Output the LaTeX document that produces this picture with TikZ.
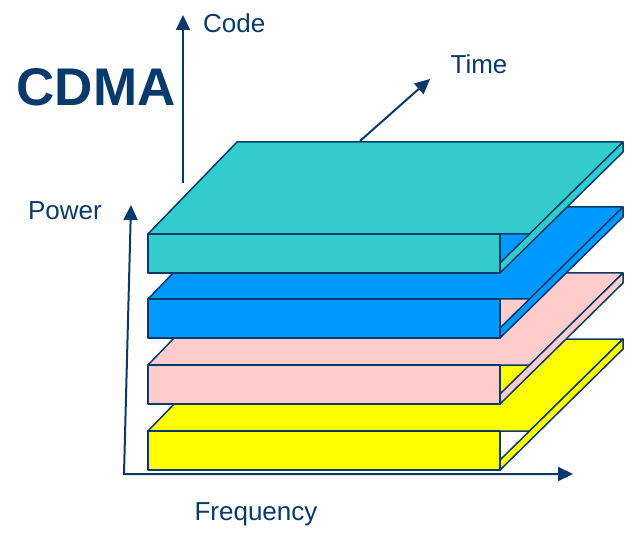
\documentclass[tikz,border=0pt]{standalone}
\usepackage{fontspec}
\setmainfont{Liberation Sans}
\usepackage{tikz}
\usetikzlibrary{arrows.meta}
\definecolor{navyc}{HTML}{0A3A6B}
\definecolor{tealc}{HTML}{33CCCC}
\definecolor{bluec}{HTML}{0099FF}
\definecolor{pinkc}{HTML}{FFCCCC}
\definecolor{yelc}{HTML}{FFFF00}
\tikzset{
  ax/.style={-{Triangle[length=15pt,width=14pt]},line width=2pt,navyc},
  face/.style={draw=navyc,line width=1.5pt,line join=round},
  lab/.style={font=\fontsize{26}{30}\selectfont,text=navyc,inner sep=0pt}
}

\begin{document}
\begin{tikzpicture}[x=1pt,y=-1pt]
\useasboundingbox (0,0) rectangle (634,534);
% slabs, lowest first
\foreach \yy/\col in {431/yelc,365/pinkc,299/bluec,234/tealc}{
  \draw[face,fill=\col] (148,\yy)--(237,\yy-92)--(623,\yy-92)--(530,\yy)--cycle;
  \draw[face,fill=\col] (148,\yy) rectangle (500,\yy+39);
  \draw[face,fill=\col] (623,\yy-92)--(623,\yy-82)--(500,\yy+39)--(500,\yy+29)--cycle;
}
% axes
\coordinate (orig) at (124,474);
\coordinate (pwtip) at (131,205);
\coordinate (fqtip) at (573,474);
\coordinate (codebot) at (183,183);
\coordinate (codetip) at (183,15);
\coordinate (timebot) at (360,141);
\coordinate (timetip) at (430,79);
\draw[ax,{Triangle[length=15pt,width=14pt]}-{Triangle[length=15pt,width=14pt]},line join=miter] (pwtip)--(orig)--(fqtip);
\draw[ax] (codebot)--(codetip);
\draw[ax] (timebot)--(timetip);
% labels
\node[lab,anchor=west] (code) at (203,23) {Code};
\node[lab] (time) at (479,64) {Time};
\node[lab] (power) at (65,211) {Power};
\node[lab,anchor=base] (freq) at (256,520) {Frequency};
\node[lab,font=\bfseries\fontsize{53}{60}\selectfont] (cdma) at (96,87) {CDMA};
\end{tikzpicture}
\end{document}
